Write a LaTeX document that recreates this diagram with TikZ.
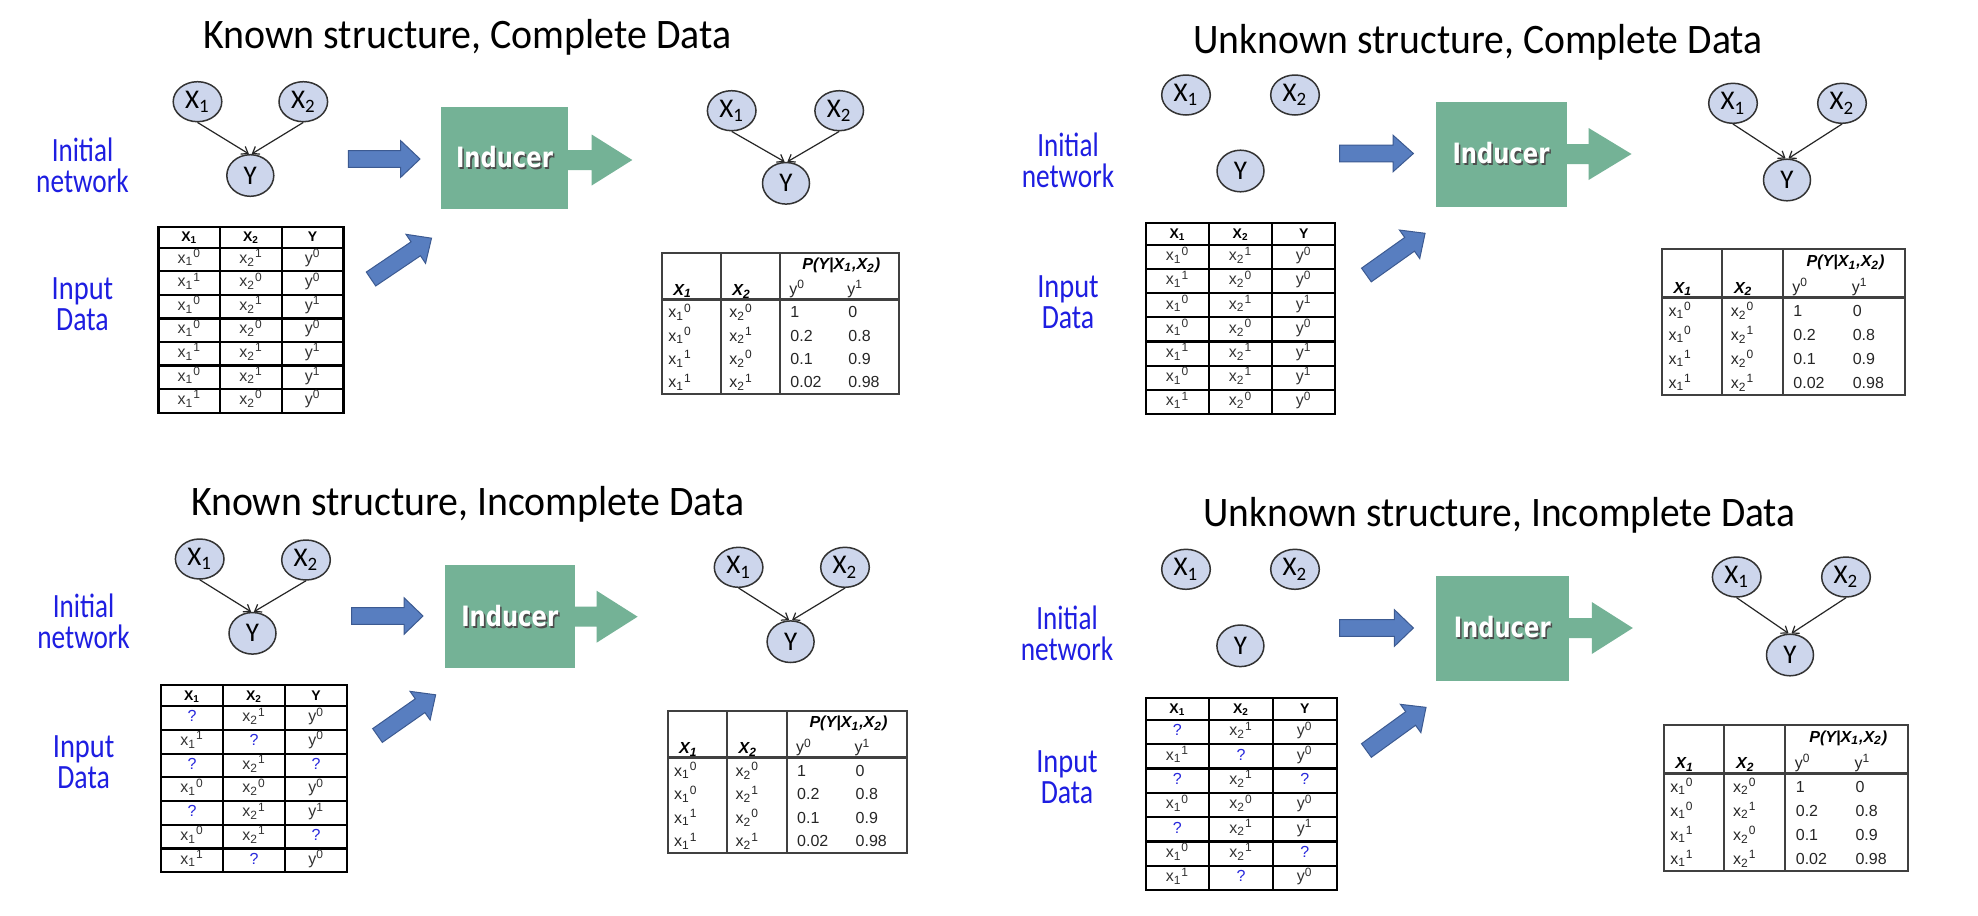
\documentclass[tikz,border=0pt]{standalone}
\usepackage{fontspec}
\usepackage{graphicx}
\setmainfont{Liberation Sans}
\newfontfamily\calfont{Carlito}
\newfontfamily\dvfont{DejaVu Sans}
\usetikzlibrary{arrows.meta,shapes.geometric}
\newdimen\px \px=0.5pt
\newcommand{\fw}[2]{\resizebox{#1\px}{\height}{#2}}
\definecolor{nodefill}{RGB}{205,214,236}
\definecolor{barrowfill}{RGB}{88,126,192}
\definecolor{barrowline}{RGB}{60,90,145}
\definecolor{indgreen}{RGB}{116,178,150}
\definecolor{lblblue}{RGB}{30,30,225}
\definecolor{qblue}{RGB}{40,40,220}
\newcommand{\xo}[1]{x\textsubscript{1}\textsuperscript{#1}}
\newcommand{\xt}[1]{x\textsubscript{2}\textsuperscript{#1}}
\newcommand{\yv}[1]{y\textsuperscript{#1}}
\newcommand{\q}{\textcolor{qblue}{?}}
\newcommand{\indtext}{\fw{97}{\rlap{\kern1pt\raisebox{-1pt}{\textcolor{black!70}{Inducer}}}\textcolor{white}{Inducer}}}
\newcommand{\completerows}{\xo{0}/\xt{1}/\yv{0},\xo{1}/\xt{0}/\yv{0},\xo{0}/\xt{1}/\yv{1},\xo{0}/\xt{0}/\yv{0},\xo{1}/\xt{1}/\yv{1},\xo{0}/\xt{1}/\yv{1},\xo{1}/\xt{0}/\yv{0}}
\newcommand{\incompleterows}{\q/\xt{1}/\yv{0},\xo{1}/\q/\yv{0},\q/\xt{1}/\q,\xo{0}/\xt{0}/\yv{0},\q/\xt{1}/\yv{1},\xo{0}/\xt{1}/\q,\xo{1}/\q/\yv{0}}
\newcommand{\initlbl}{\fw{61.5}{Initial}\\\fw{92.5}{network}}
\newcommand{\inputlbl}{\fw{61.5}{Input}\\\fw{52.5}{Data}}
\tikzset{
  bn/.style={ellipse, draw=black!80, line width=0.75pt, fill=nodefill, minimum width=24.3pt, minimum height=20pt, inner sep=0pt, font=\calfont\fontsize{13.5}{15}\selectfont},
  bny/.style={bn, minimum width=23.5pt, minimum height=20.8pt},
  edgearr/.style={-{Straight Barb[length=3pt,width=4.5pt]}, line width=0.6pt, draw=black!85},
  ttl/.style={anchor=base west, inner sep=0pt, font=\calfont\fontsize{21}{24}\selectfont},
  lbl/.style={anchor=base, inner sep=0pt, text=lblblue, align=center, font=\calfont\fontsize{17}{15.25}\selectfont},
  barr/.style={fill=barrowfill, draw=barrowline, line width=0.5pt},
  garr/.style={fill=indgreen},
  indbox/.style={rectangle, fill=indgreen, inner sep=0pt, font=\dvfont\bfseries\fontsize{14}{16}\selectfont},
  dtline/.style={line width=1.1pt, draw=black},
  dthead/.style={anchor=base, inner sep=0pt, font=\bfseries\fontsize{7}{8}\selectfont},
  dtcell/.style={anchor=base, inner sep=0pt, font=\fontsize{8}{9}\selectfont, text=black!80},
  cptline/.style={line width=0.9pt, draw=black!75},
  cptthick/.style={line width=1.5pt, draw=black!75},
  cpthead/.style={anchor=base west, inner sep=0pt, font=\bfseries\itshape\fontsize{8}{9}\selectfont},
  cptcell/.style={anchor=base west, inner sep=0pt, font=\fontsize{8}{9}\selectfont, text=black!85},
}
\newcommand{\barrow}[8]{%
  \begin{scope}[shift={(#1,#2)},rotate=#3]
    \path[#8] (0,-#6) -- ({#4-#5},-#6) -- ({#4-#5},-#7) -- (#4,0) -- ({#4-#5},#7) -- ({#4-#5},#6) -- (0,#6) -- cycle;
  \end{scope}}
\newcommand{\DataTable}[6]{%
  \begin{scope}[shift={(#2,#3)},xscale=#4/186,yscale=#5/186]
    \draw[dtline] (0,0) rectangle (186,186);
    \foreach \k in {0,...,6} \draw[dtline] (0,{21+\k*23.57}) -- (186,{21+\k*23.57});
    \draw[dtline] (62,0) -- (62,186);
    \draw[dtline] (124,0) -- (124,186);
    \node[dthead] (#1-h1) at (31,15) {X\textsubscript{1}};
    \node[dthead] (#1-h2) at (93,15) {X\textsubscript{2}};
    \node[dthead] (#1-h3) at (155,15) {Y};
    \foreach \ca/\cb/\cc [count=\i] in #6 {
      \node[dtcell] (#1-\i-a) at (31,{21+(\i-1)*23.57+15.5}) {\ca};
      \node[dtcell] (#1-\i-b) at (93,{21+(\i-1)*23.57+15.5}) {\cb};
      \node[dtcell] (#1-\i-c) at (155,{21+(\i-1)*23.57+15.5}) {\cc};
    }
  \end{scope}}
\newcommand{\CPTable}[5]{%
  \begin{scope}[shift={(#2,#3)},xscale=#4/237,yscale=#5/141.6]
    \draw[cptline] (0,0) rectangle (237,141.6);
    \draw[cptline] (58.4,0) -- (58.4,141.6);
    \draw[cptline] (117.7,0) -- (117.7,141.6);
    \draw[cptthick] (0,46.6) -- (237,46.6);
    \node[cpthead,anchor=base] (#1-p) at (179,16.5) {\fw{78}{P(Y|X\textsubscript{1},X\textsubscript{2})}};
    \node[cpthead] (#1-h1) at (10.7,42.5) {X\textsubscript{1}};
    \node[cpthead] (#1-h2) at (69.7,42.5) {X\textsubscript{2}};
    \node[cptcell] (#1-h3) at (126.7,41.8) {\yv{0}};
    \node[cptcell] (#1-h4) at (184.7,41.8) {\yv{1}};
    \foreach \ca/\cb/\cc/\cd [count=\i] in {\xo{0}/\xt{0}/1/0,\xo{0}/\xt{1}/0.2/0.8,\xo{1}/\xt{0}/0.1/0.9,\xo{1}/\xt{1}/0.02/0.98} {
      \node[cptcell] (#1-\i-a) at (5.7,{65+(\i-1)*23.33}) {\ca};
      \node[cptcell] (#1-\i-b) at (66.7,{65+(\i-1)*23.33}) {\cb};
      \node[cptcell] (#1-\i-c) at (127.7,{65+(\i-1)*23.33}) {\cc};
      \node[cptcell] (#1-\i-d) at (185.7,{65+(\i-1)*23.33}) {\cd};
    }
  \end{scope}}
\begin{document}
\begin{tikzpicture}[x=0.5pt,y=-0.5pt]
\useasboundingbox (0,0) rectangle (1978,916);
\fill[white] (0,0) rectangle (1978,916);

% ---------------- Panel 1: Known structure, Complete Data
\node[ttl] (P1t) at (203,48) {\fw{528}{Known structure, Complete Data}};
\node[lbl] (P1la) at (82.5,192) {\initlbl};
\node[lbl] (P1lc) at (82.5,330) {\inputlbl};
\node[bn] (P1x1) at (197.5,101.7) {X\textsubscript{1}};
\node[bn] (P1x2) at (303.3,101.7) {X\textsubscript{2}};
\node[bny] (P1y) at (250.3,175.5) {Y};
\draw[edgearr] (P1x1.south) -- ([xshift=-0.7pt]P1y.north);
\draw[edgearr] (P1x2.south) -- ([xshift=0.7pt]P1y.north);
\barrow{348.3}{159}{0}{71.7}{19.3}{8.3}{18.3}{barr}
\barrow{371}{279}{34}{73}{19}{8.4}{17.5}{barr}
\node[indbox, minimum width=63.8pt, minimum height=50.85pt] (P1ind) at (504.5,158.2) {\indtext};
\barrow{567}{160}{0}{65.3}{40.6}{10}{25.5}{garr}
\DataTable{P1dt}{158.5}{226.7}{185}{186}{\completerows}
\node[bn] (P1ox1) at (731.7,110.7) {X\textsubscript{1}};
\node[bn] (P1ox2) at (839.2,110.7) {X\textsubscript{2}};
\node[bny] (P1oy) at (786,183.3) {Y};
\draw[edgearr] (P1ox1.south) -- ([xshift=-0.7pt]P1oy.north);
\draw[edgearr] (P1ox2.south) -- ([xshift=0.7pt]P1oy.north);
\CPTable{P1cpt}{662.3}{252.7}{237}{141.6}

% ---------------- Panel 2: Unknown structure, Complete Data
\node[ttl] (P2t) at (1193,53) {\fw{569}{Unknown structure, Complete Data}};
\node[lbl] (P2la) at (1068,187) {\initlbl};
\node[lbl] (P2lc) at (1068,328) {\inputlbl};
\node[bn] (P2x1) at (1186,95) {X\textsubscript{1}};
\node[bn] (P2x2) at (1295,95) {X\textsubscript{2}};
\node[bny] (P2y) at (1240.5,171) {Y};
\barrow{1339.7}{153.5}{0}{73.7}{20.4}{8.3}{18.3}{barr}
\barrow{1366.4}{275}{35.4}{72}{19}{8.4}{17.5}{barr}
\node[indbox, minimum width=65.5pt, minimum height=52.5pt] (P2ind) at (1501,154.2) {\indtext};
\barrow{1565.2}{154}{0}{66.3}{42.9}{10}{26}{garr}
\DataTable{P2dt}{1146}{223.3}{189.3}{190.7}{\completerows}
\node[bn] (P2ox1) at (1733,103.3) {X\textsubscript{1}};
\node[bn] (P2ox2) at (1842,103.3) {X\textsubscript{2}};
\node[bny] (P2oy) at (1787,180) {Y};
\draw[edgearr] (P2ox1.south) -- ([xshift=-0.7pt]P2oy.north);
\draw[edgearr] (P2ox2.south) -- ([xshift=0.7pt]P2oy.north);
\CPTable{P2cpt}{1662.3}{249.3}{242.6}{145.7}

% ---------------- Panel 3: Known structure, Incomplete Data
\node[ttl] (P3t) at (190.7,515) {\fw{553}{Known structure, Incomplete Data}};
\node[lbl] (P3la) at (83.6,648) {\initlbl};
\node[lbl] (P3lc) at (83.6,788) {\inputlbl};
\node[bn] (P3x1) at (199.7,559) {X\textsubscript{1}};
\node[bn] (P3x2) at (306,560) {X\textsubscript{2}};
\node[bny] (P3y) at (252.5,633.3) {Y};
\draw[edgearr] (P3x1.south) -- ([xshift=-0.7pt]P3y.north);
\draw[edgearr] (P3x2.south) -- ([xshift=0.7pt]P3y.north);
\barrow{351.6}{616}{0}{71.4}{19}{8.3}{18.3}{barr}
\barrow{377.5}{735.5}{35}{71}{19}{8.4}{17.5}{barr}
\node[indbox, minimum width=64.75pt, minimum height=51.65pt] (P3ind) at (509.75,616.65) {\indtext};
\barrow{573.2}{616.7}{0}{64.4}{41}{10}{26}{garr}
\DataTable{P3dt}{161}{685}{186.2}{187.3}{\incompleterows}
\node[bn] (P3ox1) at (738.6,567.3) {X\textsubscript{1}};
\node[bn] (P3ox2) at (845,567.3) {X\textsubscript{2}};
\node[bny] (P3oy) at (790.6,641.7) {Y};
\draw[edgearr] (P3ox1.south) -- ([xshift=-0.7pt]P3oy.north);
\draw[edgearr] (P3ox2.south) -- ([xshift=0.7pt]P3oy.north);
\CPTable{P3cpt}{668}{710.7}{239}{142.6}

% ---------------- Panel 4: Unknown structure, Incomplete Data
\node[ttl] (P4t) at (1203,526) {\fw{592}{Unknown structure, Incomplete Data}};
\node[lbl] (P4la) at (1067,660) {\initlbl};
\node[lbl] (P4lc) at (1067,803) {\inputlbl};
\node[bn] (P4x1) at (1186,569.3) {X\textsubscript{1}};
\node[bn] (P4x2) at (1295,569.3) {X\textsubscript{2}};
\node[bny] (P4y) at (1240.4,645.8) {Y};
\barrow{1339.7}{628}{0}{73.7}{19}{8.3}{18.3}{barr}
\barrow{1366.4}{750.5}{35.9}{73.6}{19}{8.4}{17.5}{barr}
\node[indbox, minimum width=66.25pt, minimum height=52.35pt] (P4ind) at (1502.25,628.35) {\indtext};
\barrow{1567.2}{628}{0}{65.6}{41}{10}{26}{garr}
\DataTable{P4dt}{1145.6}{698.3}{191}{191.7}{\incompleterows}
\node[bn] (P4ox1) at (1736.7,577) {X\textsubscript{1}};
\node[bn] (P4ox2) at (1846,577) {X\textsubscript{2}};
\node[bny] (P4oy) at (1790,655) {Y};
\draw[edgearr] (P4ox1.south) -- ([xshift=-0.7pt]P4oy.north);
\draw[edgearr] (P4ox2.south) -- ([xshift=0.7pt]P4oy.north);
\CPTable{P4cpt}{1664}{725}{244}{146}
\end{tikzpicture}
\end{document}
